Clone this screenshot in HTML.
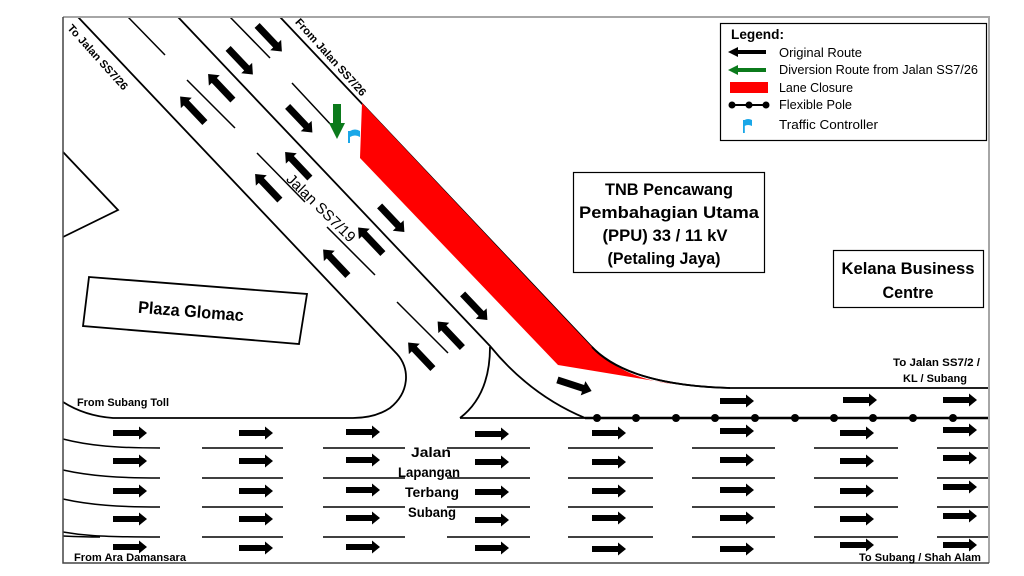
<!DOCTYPE html>
<html><head><meta charset="utf-8"><style>
html,body{margin:0;padding:0;background:#fff;}
svg{display:block;}
text{font-family:"Liberation Sans",Arial,sans-serif;fill:#000;}
</style></head><body>
<svg width="1024" height="576" viewBox="0 0 1024 576" xmlns="http://www.w3.org/2000/svg">
<defs>
<polygon id="da" points="-18,-3.5 9,-3.5 9,-7.5 18,0 9,7.5 9,3.5 -18,3.5" fill="#000"/>
<polygon id="ha" points="0,-3 26,-3 26,-6.5 34,0 26,6.5 26,3 0,3" fill="#000"/>
</defs>
<rect width="1024" height="576" fill="#fff"/>

<g fill="none" stroke="#000" stroke-width="1.8">
<!-- line A -->
<path d="M78,17 L397,354 C410,368 410,392 390,408 C378,416 365,418 353,418 L113,418 Q85,416 63,402"/>
<!-- line C -->
<path d="M178,17 L490,346 Q530,395 585,418"/>
<!-- island -->
<path d="M460,418 Q490,395 490,347"/>
<path d="M460,418 L585,418"/>
<!-- line E -->
<path d="M280,17 L590,345 C615,372 660,386 730,388 L989,388"/>
<!-- left notch -->
<path d="M63,152 L118,210 L63,237"/>
<!-- Plaza Glomac box -->
<polygon points="89,277 307,294 299,344 83,326"/>
</g>

<!-- red lane closure (covers line E) -->
<path d="M362,103 L590,345 C613,370 645,381 673,384 L558,365 L360,158 Z" fill="#ff0000"/>
<!-- redraw curve portion of line E over red -->
<path d="M592,347 C615,372 660,386 730,388" fill="none" stroke="#000" stroke-width="1.8"/>

<g fill="none" stroke="#000" stroke-width="1.5">
<!-- dashes B -->
<path d="M128,17 L165,55 M187,80 L235,128 M257,153 L305,202 M327,227 L375,275 M397,302 L448,353"/>
<!-- dashes D -->
<path d="M230,17 L270,58 M292,83 L333,127"/>
<!-- lower road lane lines -->
<path d="M63,439 C90,446 118,448 160,448 M63,470 C90,476 118,478 160,478 M63,499 C90,505 118,507 160,507 M63,532 C80,535 95,537 160,537 M63,536 Q85,537 100,537"/>
<path d="M202,448 H283 M323,448 H405 M447,448 H530 M568,448 H653 M692,448 H775 M814,448 H898 M937,448 H989"/>
<path d="M202,478 H283 M323,478 H405 M447,478 H530 M568,478 H653 M692,478 H775 M814,478 H898 M937,478 H989"/>
<path d="M202,507 H283 M323,507 H405 M447,507 H530 M568,507 H653 M692,507 H775 M814,507 H898 M937,507 H989"/>
<path d="M202,537 H283 M323,537 H405 M447,537 H530 M568,537 H653 M692,537 H775 M814,537 H898 M937,537 H989"/>
</g>

<!-- pole line -->
<path d="M585,418 L989,418" stroke="#000" stroke-width="2.5"/>
<g fill="#000">
<circle cx="597" cy="418" r="4"/><circle cx="636" cy="418" r="4"/><circle cx="676" cy="418" r="4"/>
<circle cx="715" cy="418" r="4"/><circle cx="755" cy="418" r="4"/><circle cx="795" cy="418" r="4"/>
<circle cx="834" cy="418" r="4"/><circle cx="873" cy="418" r="4"/><circle cx="913" cy="418" r="4"/>
<circle cx="953" cy="418" r="4"/>
</g>

<!-- diagonal arrows down-right -->
<use href="#da" transform="translate(269.5,38.5) rotate(46.5)"/>
<use href="#da" transform="translate(240.5,61.5) rotate(46.5)"/>
<use href="#da" transform="translate(300,119.5) rotate(46.5)"/>
<use href="#da" transform="translate(392,219) rotate(46.5)"/>
<use href="#da" transform="translate(475,307) rotate(46.5)"/>
<use href="#da" transform="translate(574.5,385.5) rotate(18)"/>
<!-- diagonal arrows up-left -->
<use href="#da" transform="translate(192.5,109.5) rotate(226.5)"/>
<use href="#da" transform="translate(220.5,87) rotate(226.5)"/>
<use href="#da" transform="translate(267.5,187) rotate(226.5)"/>
<use href="#da" transform="translate(297.5,165) rotate(226.5)"/>
<use href="#da" transform="translate(335.5,262.5) rotate(226.5)"/>
<use href="#da" transform="translate(370.5,240.5) rotate(226.5)"/>
<use href="#da" transform="translate(420.5,355.5) rotate(226.5)"/>
<use href="#da" transform="translate(450,334.5) rotate(226.5)"/>

<!-- green diversion arrow -->
<polygon points="333,104 341,104 341,123 345,123 337,139 329,123 333,123" fill="#0b7a1b"/>
<!-- blue flag -->
<rect x="348" y="131" width="2" height="12" fill="#1aa7e8"/>
<path d="M350,131 Q355,128 360,131 L360,137 Q355,134 350,137 Z" fill="#1aa7e8"/>

<!-- horizontal arrows top lane -->
<use href="#ha" transform="translate(720,401)"/>
<use href="#ha" transform="translate(843,400)"/>
<use href="#ha" transform="translate(943,400)"/>

<!-- horizontal arrows lower road -->
<g>
<use href="#ha" transform="translate(113,433)"/><use href="#ha" transform="translate(113,461)"/><use href="#ha" transform="translate(113,491)"/><use href="#ha" transform="translate(113,519)"/><use href="#ha" transform="translate(113,547)"/>
<use href="#ha" transform="translate(239,433)"/><use href="#ha" transform="translate(239,461)"/><use href="#ha" transform="translate(239,491)"/><use href="#ha" transform="translate(239,519)"/><use href="#ha" transform="translate(239,548)"/>
<use href="#ha" transform="translate(346,432)"/><use href="#ha" transform="translate(346,460)"/><use href="#ha" transform="translate(346,490)"/><use href="#ha" transform="translate(346,518)"/><use href="#ha" transform="translate(346,547)"/>
<use href="#ha" transform="translate(475,434)"/><use href="#ha" transform="translate(475,462)"/><use href="#ha" transform="translate(475,492)"/><use href="#ha" transform="translate(475,520)"/><use href="#ha" transform="translate(475,548)"/>
<use href="#ha" transform="translate(592,433)"/><use href="#ha" transform="translate(592,462)"/><use href="#ha" transform="translate(592,491)"/><use href="#ha" transform="translate(592,518)"/><use href="#ha" transform="translate(592,549)"/>
<use href="#ha" transform="translate(720,431)"/><use href="#ha" transform="translate(720,460)"/><use href="#ha" transform="translate(720,490)"/><use href="#ha" transform="translate(720,518)"/><use href="#ha" transform="translate(720,549)"/>
<use href="#ha" transform="translate(840,433)"/><use href="#ha" transform="translate(840,461)"/><use href="#ha" transform="translate(840,491)"/><use href="#ha" transform="translate(840,519)"/><use href="#ha" transform="translate(840,545)"/>
<use href="#ha" transform="translate(943,430)"/><use href="#ha" transform="translate(943,458)"/><use href="#ha" transform="translate(943,487)"/><use href="#ha" transform="translate(943,516)"/><use href="#ha" transform="translate(943,545)"/>
</g>

<!-- boxes -->
<rect x="573.5" y="172.5" width="191" height="100" fill="#fff" stroke="#000" stroke-width="1.2"/>
<rect x="833.5" y="250.5" width="150" height="57" fill="#fff" stroke="#000" stroke-width="1.2"/>
<rect x="720.5" y="23.5" width="266" height="117" fill="#fff" stroke="#000" stroke-width="1.2"/>

<!-- frame -->
<path d="M63,17 H989 V563" fill="none" stroke="#a6a6a6" stroke-width="2"/>
<path d="M63,17 V563 H989" fill="none" stroke="#444" stroke-width="1.5"/>

<!-- legend -->
<text x="731" y="39" font-size="14" font-weight="bold" textLength="53" lengthAdjust="spacingAndGlyphs">Legend:</text>
<polygon points="766,50 738,50 738,47 728,52 738,57 738,54 766,54" fill="#000"/>
<polygon points="766,68 738,68 738,65 728,70 738,75 738,72 766,72" fill="#0b7a1b"/>
<rect x="730" y="82" width="38" height="11" fill="#ff0000"/>
<path d="M730,105 H768" stroke="#000" stroke-width="2"/>
<circle cx="732" cy="105" r="3.5" fill="#000"/><circle cx="749" cy="105" r="3.5" fill="#000"/><circle cx="766" cy="105" r="3.5" fill="#000"/>
<rect x="743" y="120" width="1.8" height="13" fill="#1aa7e8"/>
<path d="M744.5,120 Q748,118 752,120 L752,126 Q748,124 744.5,126 Z" fill="#1aa7e8"/>
<g font-size="12.5">
<text x="779" y="57" textLength="83" lengthAdjust="spacingAndGlyphs">Original Route</text>
<text x="779" y="74" textLength="199" lengthAdjust="spacingAndGlyphs">Diversion Route from Jalan SS7/26</text>
<text x="779" y="92" textLength="74" lengthAdjust="spacingAndGlyphs">Lane Closure</text>
<text x="779" y="109" textLength="73" lengthAdjust="spacingAndGlyphs">Flexible Pole</text>
<text x="779" y="129" textLength="99" lengthAdjust="spacingAndGlyphs">Traffic Controller</text>
</g>

<!-- TNB box text -->
<g font-size="17" font-weight="bold" text-anchor="middle">
<text x="669" y="195" textLength="128" lengthAdjust="spacingAndGlyphs">TNB Pencawang</text>
<text x="669" y="218" textLength="180" lengthAdjust="spacingAndGlyphs">Pembahagian Utama</text>
<text x="665" y="241" textLength="125" lengthAdjust="spacingAndGlyphs">(PPU) 33 / 11 kV</text>
<text x="664" y="264" textLength="113" lengthAdjust="spacingAndGlyphs">(Petaling Jaya)</text>
<text x="908" y="274" textLength="133" lengthAdjust="spacingAndGlyphs">Kelana Business</text>
<text x="908" y="298" textLength="51" lengthAdjust="spacingAndGlyphs">Centre</text>
</g>

<!-- Plaza Glomac -->
<text transform="translate(191,311) rotate(4.6)" x="0" y="6" font-size="17" font-weight="bold" text-anchor="middle" textLength="106" lengthAdjust="spacingAndGlyphs">Plaza Glomac</text>

<!-- rotated road labels -->
<text transform="translate(98,57) rotate(48)" x="0" y="4" font-size="11" font-weight="bold" text-anchor="middle" textLength="84" lengthAdjust="spacingAndGlyphs">To Jalan SS7/26</text>
<text transform="translate(331,57) rotate(48)" x="0" y="4" font-size="11" font-weight="bold" text-anchor="middle" textLength="100" lengthAdjust="spacingAndGlyphs">From Jalan SS7/26</text>
<text transform="translate(321,208) rotate(44.5)" x="0" y="5" font-size="15" text-anchor="middle" textLength="90" lengthAdjust="spacingAndGlyphs">Jalan SS7/19</text>

<!-- small labels -->
<g font-size="11" font-weight="bold">
<text x="77" y="406" textLength="92" lengthAdjust="spacingAndGlyphs">From Subang Toll</text>
<text x="74" y="561" textLength="112" lengthAdjust="spacingAndGlyphs">From Ara Damansara</text>
<text x="859" y="561" textLength="122" lengthAdjust="spacingAndGlyphs">To Subang / Shah Alam</text>
<text x="893" y="366" textLength="87" lengthAdjust="spacingAndGlyphs">To Jalan SS7/2 /</text>
<text x="903" y="382" textLength="64" lengthAdjust="spacingAndGlyphs">KL / Subang</text>
</g>

<!-- Jalan Lapangan Terbang Subang -->
<g font-size="14" font-weight="bold" text-anchor="middle">
<text x="431" y="457" textLength="40" lengthAdjust="spacingAndGlyphs">Jalan</text>
<text x="429" y="477" textLength="62" lengthAdjust="spacingAndGlyphs">Lapangan</text>
<text x="432" y="497" textLength="54" lengthAdjust="spacingAndGlyphs">Terbang</text>
<text x="432" y="517" textLength="48" lengthAdjust="spacingAndGlyphs">Subang</text>
</g>
</svg>
</body></html>
